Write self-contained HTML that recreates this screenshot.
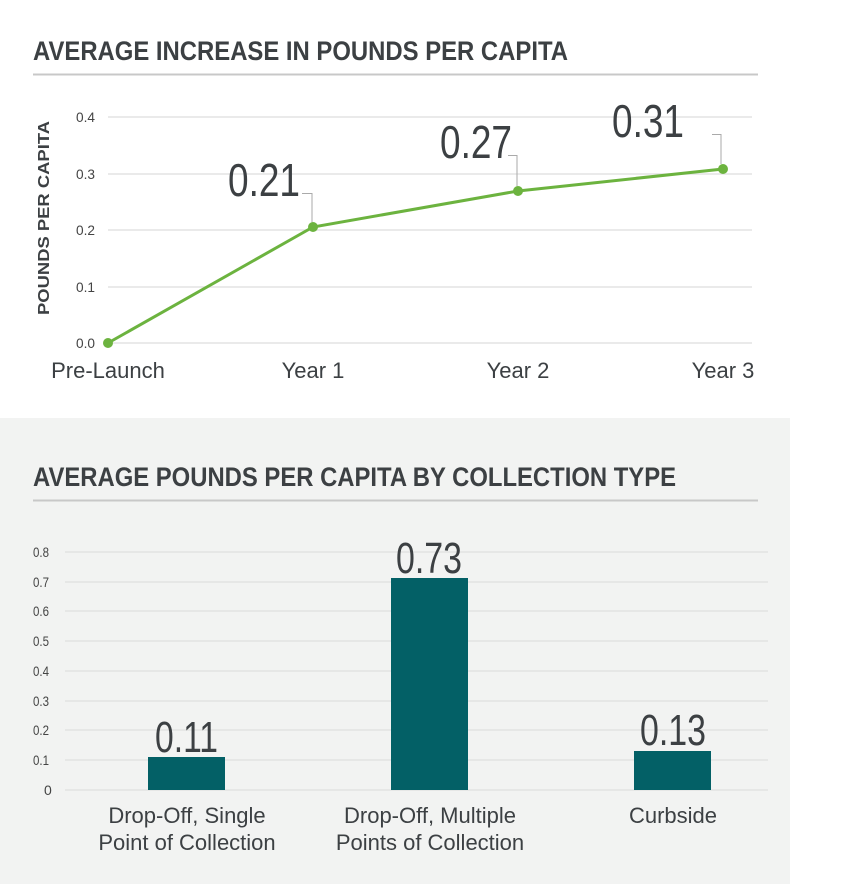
<!DOCTYPE html>
<html><head><meta charset="utf-8"><style>
body{margin:0;background:#fff;}
svg{display:block;font-family:"Liberation Sans Narrow","Liberation Sans",sans-serif;}
</style></head><body>
<svg width="850" height="894" viewBox="0 0 850 894" xmlns="http://www.w3.org/2000/svg">
<rect x="0" y="0" width="850" height="894" fill="#fff"/>
<text x="33" y="60" font-size="27" font-weight="bold" fill="#3c4043" textLength="535" lengthAdjust="spacingAndGlyphs">AVERAGE INCREASE IN POUNDS PER CAPITA</text>
<line x1="33" y1="74.5" x2="758" y2="74.5" stroke="#c8c8c8" stroke-width="2"/>
<g stroke="#e3e3e3" stroke-width="1.5">
<line x1="108" y1="117" x2="752" y2="117"/>
<line x1="108" y1="174" x2="752" y2="174"/>
<line x1="108" y1="230" x2="752" y2="230"/>
<line x1="108" y1="287" x2="752" y2="287"/>
<line x1="108" y1="343" x2="752" y2="343"/>
</g>
<g font-size="14" fill="#444" text-anchor="end">
<text x="95" y="122" textLength="19" lengthAdjust="spacingAndGlyphs">0.4</text><text x="95" y="179" textLength="19" lengthAdjust="spacingAndGlyphs">0.3</text><text x="95" y="235" textLength="19" lengthAdjust="spacingAndGlyphs">0.2</text><text x="95" y="292" textLength="19" lengthAdjust="spacingAndGlyphs">0.1</text><text x="95" y="348" textLength="19" lengthAdjust="spacingAndGlyphs">0.0</text>
</g>
<text transform="translate(49,218) rotate(-90)" font-size="16" font-weight="bold" fill="#3c4043" text-anchor="middle" textLength="194" lengthAdjust="spacingAndGlyphs">POUNDS PER CAPITA</text>
<polyline points="108,343 313,227 518,191 723,169" fill="none" stroke="#6cb33f" stroke-width="3"/>
<g fill="#6cb33f"><circle cx="108" cy="343" r="5"/><circle cx="313" cy="227" r="5"/><circle cx="518" cy="191" r="5"/><circle cx="723" cy="169" r="5"/></g>
<g stroke="#aaa" stroke-width="1" fill="none">
<polyline points="302,193.5 312,193.5 312,222"/>
<polyline points="508,155.5 517,155.5 517,186"/>
<polyline points="712,134.5 721,134.5 721,164"/>
</g>
<g font-size="46" fill="#3c4043">
<text x="228" y="196" textLength="72" lengthAdjust="spacingAndGlyphs">0.21</text><text x="440" y="158" textLength="72" lengthAdjust="spacingAndGlyphs">0.27</text><text x="612" y="137" textLength="72" lengthAdjust="spacingAndGlyphs">0.31</text>
</g>
<g font-size="22" fill="#3c4043" text-anchor="middle">
<text x="108" y="378">Pre-Launch</text><text x="313" y="378">Year 1</text><text x="518" y="378">Year 2</text><text x="723" y="378">Year 3</text>
</g>
<rect x="0" y="418" width="790" height="466" fill="#f2f3f2"/>
<text x="33" y="486" font-size="27" font-weight="bold" fill="#3c4043" textLength="643" lengthAdjust="spacingAndGlyphs">AVERAGE POUNDS PER CAPITA BY COLLECTION TYPE</text>
<line x1="33" y1="500.5" x2="758" y2="500.5" stroke="#c8c8c8" stroke-width="2"/>
<g stroke="#e2e3e2" stroke-width="1.5">
<line x1="65" y1="552" x2="768" y2="552"/><line x1="65" y1="582" x2="768" y2="582"/>
<line x1="65" y1="611" x2="768" y2="611"/><line x1="65" y1="641" x2="768" y2="641"/>
<line x1="65" y1="671" x2="768" y2="671"/><line x1="65" y1="701" x2="768" y2="701"/>
<line x1="65" y1="730" x2="768" y2="730"/><line x1="65" y1="760" x2="768" y2="760"/>
<line x1="65" y1="790" x2="768" y2="790"/>
</g>
<g font-size="14" fill="#444">
<text x="33" y="557" textLength="16" lengthAdjust="spacingAndGlyphs">0.8</text><text x="33" y="587" textLength="16" lengthAdjust="spacingAndGlyphs">0.7</text><text x="33" y="616" textLength="16" lengthAdjust="spacingAndGlyphs">0.6</text><text x="33" y="646" textLength="16" lengthAdjust="spacingAndGlyphs">0.5</text><text x="33" y="676" textLength="16" lengthAdjust="spacingAndGlyphs">0.4</text><text x="33" y="706" textLength="16" lengthAdjust="spacingAndGlyphs">0.3</text><text x="33" y="735" textLength="16" lengthAdjust="spacingAndGlyphs">0.2</text><text x="33" y="765" textLength="16" lengthAdjust="spacingAndGlyphs">0.1</text><text x="44" y="795">0</text>
</g>
<g fill="#036066">
<rect x="148" y="757" width="77" height="33"/>
<rect x="391" y="578" width="77" height="212"/>
<rect x="634" y="751" width="77" height="39"/>
</g>
<g font-size="44" fill="#3c4043">
<text x="155" y="752" textLength="63" lengthAdjust="spacingAndGlyphs">0.11</text><text x="396" y="573" textLength="66" lengthAdjust="spacingAndGlyphs">0.73</text><text x="640" y="745" textLength="66" lengthAdjust="spacingAndGlyphs">0.13</text>
</g>
<g font-size="22" fill="#3c4043" text-anchor="middle">
<text x="187" y="823">Drop-Off, Single</text><text x="187" y="850">Point of Collection</text>
<text x="430" y="823">Drop-Off, Multiple</text><text x="430" y="850">Points of Collection</text>
<text x="673" y="823">Curbside</text>
</g>
</svg>
</body></html>
